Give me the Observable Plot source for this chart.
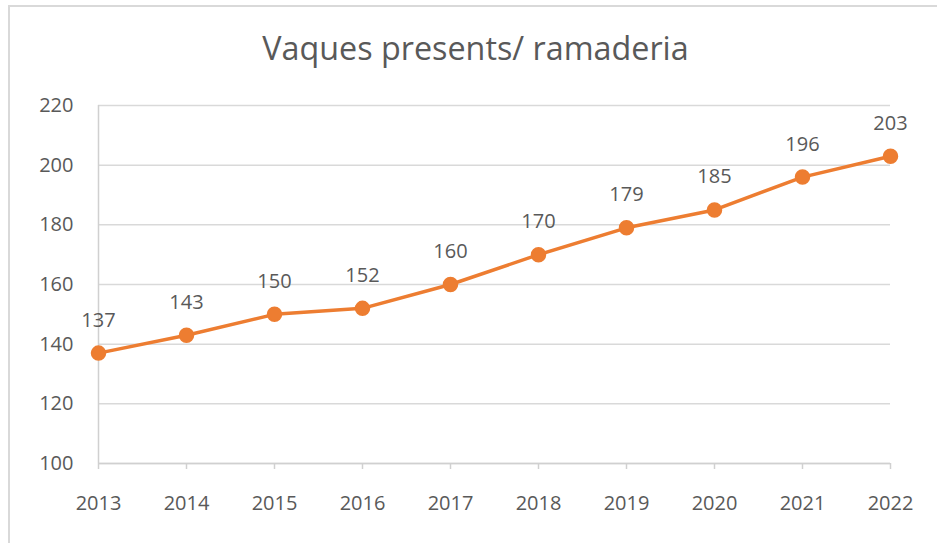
<!DOCTYPE html>
<html>
<head>
<meta charset="utf-8">
<script src="https://cdn.jsdelivr.net/npm/d3@7"></script>
<script src="https://cdn.jsdelivr.net/npm/@observablehq/plot@0.6"></script>
<style>
  html, body { margin: 0; padding: 0; background: #fff; overflow: hidden; }
  #wrap { position: relative; width: 937px; height: 543px; overflow: hidden; }
  #frame { position: absolute; left: 8px; top: 5px; width: 1000px; height: 1000px; border: 2px solid #d9d9d9; box-sizing: border-box; }
  #chart { position: absolute; left: 0; top: 0; }
</style>
</head>
<body>
<div id="wrap"><div id="frame"></div><div id="chart"></div></div>
<script>
const title = "Vaques presents/ ramaderia";
const years = [2013, 2014, 2015, 2016, 2017, 2018, 2019, 2020, 2021, 2022];
const cows = [137, 143, 150, 152, 160, 170, 179, 185, 196, 203];
const yTicks = [100, 120, 140, 160, 180, 200, 220];

const data = years.map((y, i) => ({year: y, value: cows[i]}));
const font = "'Open Sans', sans-serif";
const gray = "#595959";
const orange = "#ED7D31";

const chart = Plot.plot({
  width: 937,
  height: 543,
  marginLeft: 98,
  marginRight: 47,
  marginTop: 105,
  marginBottom: 80,
  style: {fontFamily: font, fontSize: "20px", color: gray, background: "transparent"},
  x: {domain: [2013, 2022], ticks: years, tickFormat: d3.format("d")},
  y: {domain: [100, 220], ticks: yTicks},
  marks: [
    Plot.gridY(yTicks, {stroke: "#d9d9d9", strokeOpacity: 1, strokeWidth: 1.5}),
    Plot.ruleX([2013], {stroke: "#d0d0d0", strokeWidth: 1.5}),
    Plot.ruleY([100], {stroke: "#d0d0d0", strokeWidth: 1.5}),
    Plot.axisY(yTicks, {tickSize: 0, tickPadding: 25, fontSize: 20, fill: gray, label: null}),
    Plot.axisX(years, {tickSize: 6, tickPadding: 26, stroke: "#d0d0d0", strokeWidth: 1.5, fontSize: 20, fill: gray, tickFormat: d3.format("d"), label: null}),
    Plot.line(data, {x: "year", y: "value", stroke: orange, strokeWidth: 3.5}),
    Plot.dot(data, {x: "year", y: "value", r: 7, fill: orange, stroke: orange}),
    Plot.text(data, {x: "year", y: "value", text: d => String(d.value), dy: -33, fontSize: 20, fill: gray}),
    Plot.text([title], {frameAnchor: "top", lineAnchor: "middle", dx: -19, dy: -56, fontSize: 32.3, fill: gray, text: d => d})
  ]
});
document.getElementById("chart").appendChild(chart);
</script>
</body>
</html>
